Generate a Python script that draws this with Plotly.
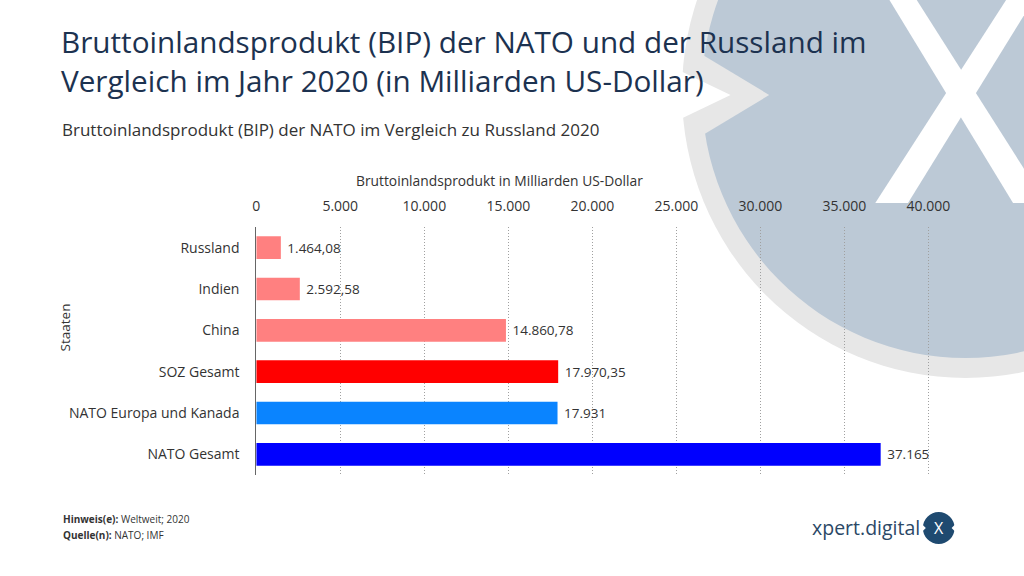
import plotly.graph_objects as go

# ---- data ----
categories = ["Russland", "Indien", "China", "SOZ Gesamt", "NATO Europa und Kanada", "NATO Gesamt"]
gdp_values = [1464.08, 2592.58, 14860.78, 17970.35, 17931, 37165]
bar_colors = ["#ff8080", "#ff8080", "#ff8080", "#ff0000", "#0a84ff", "#0000ff"]
x_ticks = [0, 5000, 10000, 15000, 20000, 25000, 30000, 35000, 40000]

title_text = "Bruttoinlandsprodukt (BIP) der NATO und der Russland im<br>Vergleich im Jahr 2020 (in Milliarden US-Dollar)"
subtitle_text = "Bruttoinlandsprodukt (BIP) der NATO im Vergleich zu Russland 2020"
x_title = "Bruttoinlandsprodukt in Milliarden US-Dollar"
y_title = "Staaten"


def de_format(v):
    if float(v).is_integer():
        return f"{int(v):,}".replace(",", ".")
    s = f"{v:,.2f}"
    return s.replace(",", "X").replace(".", ",").replace("X", ".")


labels = ["\u00a0" + de_format(v) for v in gdp_values]

W, H = 1024, 576


def px(x):
    return x / W


def py(y):
    return 1 - y / H


fig = go.Figure(
    go.Bar(
        y=categories,
        x=gdp_values,
        orientation="h",
        marker=dict(color=bar_colors, line=dict(width=0)),
        text=labels,
        textposition="outside",
        cliponaxis=False,
        textfont=dict(family="Open Sans", size=13.5, color="#333333"),
        hoverinfo="skip",
    )
)

x_max = 41000
plot_left = 254.5
plot_right = plot_left + 678 * x_max / 40000

fig.update_xaxes(
    side="top",
    range=[0, x_max],
    domain=[px(plot_left), px(plot_right)],
    tickvals=x_ticks,
    tickformat=",d",
    showgrid=True,
    gridcolor="#a0a0a0",
    gridwidth=1,
    griddash="1px,2px",
    zeroline=False,
    showline=False,
    ticks="outside",
    ticklen=9,
    tickcolor="rgba(0,0,0,0)",
    tickfont=dict(family="Open Sans", size=14, color="#333333"),
)
fig.update_yaxes(
    domain=[py(475), py(227)],
    categoryorder="array",
    categoryarray=categories,
    autorange="reversed",
    showline=True,
    linecolor="#666666",
    linewidth=1,
    showgrid=False,
    ticks="outside",
    ticklen=13,
    tickcolor="rgba(0,0,0,0)",
    tickfont=dict(family="Open Sans", size=14, color="#333333"),
)

# ---- watermark shapes ----
cx, cy = 970, 92
R_in, R_out = 266, 286
ring_gray = "#e7e7e7"
circle_blue = "#bcc9d6"
shapes = [
    dict(type="circle", xref="paper", yref="paper", layer="below",
         x0=px(cx - R_out), x1=px(cx + R_out), y0=py(cy + R_out), y1=py(cy - R_out),
         fillcolor=ring_gray, line=dict(width=0)),
    dict(type="circle", xref="paper", yref="paper", layer="below",
         x0=px(cx - R_in), x1=px(cx + R_in), y0=py(cy + R_in), y1=py(cy - R_in),
         fillcolor=circle_blue, line=dict(width=0)),
]


def poly(points, color, layer="below"):
    d = "M " + " L ".join(f"{px(x)},{py(y)}" for x, y in points) + " Z"
    return dict(type="path", xref="paper", yref="paper", layer=layer, path=d,
                fillcolor=color, line=dict(width=0))


shapes.append(poly([(700, 52), (772, 95), (700, 138)], ring_gray))
shapes.append(poly([(672, 66), (733, 95), (672, 124)], "#ffffff"))
# big white X
shapes.append(poly([(881, -20), (908, -20), (1051, 203), (1018, 203)], "#ffffff"))
shapes.append(poly([(1024, -20), (1051, -20), (912, 203), (879, 203)], "#ffffff"))
# small logo circle
shapes.append(dict(type="circle", xref="paper", yref="paper", layer="above",
                   x0=px(943 - 16), x1=px(943 + 16), y0=py(528 + 16), y1=py(528 - 16),
                   fillcolor="#1f4a70", line=dict(width=0)))
shapes.append(poly([(926, 524), (930, 528), (926, 532)], "#ffffff", "above"))
shapes.append(poly([(960, 524), (956, 528), (960, 532)], "#ffffff", "above"))


def ann(text, x, y, size, color="#333333", xanchor="left", yanchor="middle", **kw):
    return dict(text=text, x=px(x), y=py(y), xref="paper", yref="paper",
                xanchor=xanchor, yanchor=yanchor, showarrow=False,
                font=dict(family="Open Sans", size=size, color=color), **kw)


annotations = [
    ann(title_text, 55, 19, 29.7, "#1c3250", yanchor="top", align="left"),
    ann(subtitle_text, 56, 129, 17),
    ann(x_title, 500, 180, 13.8, xanchor="center"),
    ann(y_title, 62, 327, 13.5, xanchor="center", textangle=-90),
    ann("<b>Hinweis(e):</b> Weltweit; 2020", 58, 519, 10),
    ann("<b>Quelle(n):</b> NATO; IMF", 58, 535, 10),
    ann("xpert.digital", 926, 527, 19.5, "#2b4866", xanchor="right"),
    ann("X", 943, 528, 16, "#ffffff", xanchor="center"),
]

fig.update_layout(
    width=W, height=H,
    margin=dict(l=0, r=0, t=0, b=0),
    paper_bgcolor="#ffffff",
    plot_bgcolor="rgba(0,0,0,0)",
    separators=",.",
    bargap=0.45,
    showlegend=False,
    shapes=shapes,
    annotations=annotations,
    font=dict(family="Open Sans", color="#333333"),
)

fig.write_html("out.html", config={"displayModeBar": False},
               post_script="document.body.style.margin='0';document.body.style.overflow='hidden';")
